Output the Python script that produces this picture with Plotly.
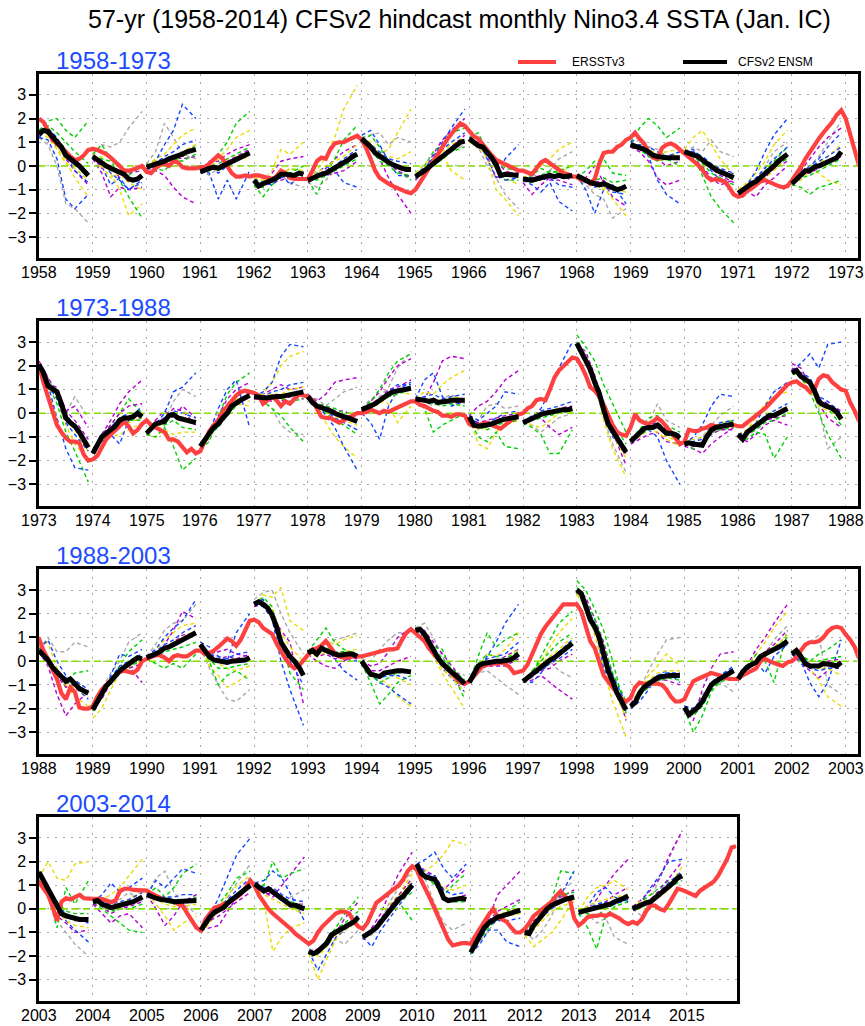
import plotly.graph_objects as go

# ---------------- DATA ----------------
TITLE = "57-yr (1958-2014) CFSv2 hindcast monthly Nino3.4 SSTA (Jan. IC)"
PANEL_TITLES = ["1958-1973", "1973-1988", "1988-2003", "2003-2014"]
PANEL_STARTS = [1958, 1973, 1988, 2003]
PANEL_LAST_TICK = [1973, 1988, 2003, 2015]
PANEL_LAST_FC = [1972, 1987, 2002, 2014]
PANEL_SPANS = [15.223, 15.223, 15.223, 12.928]
LEGEND_LABELS = ["ERSSTv3", "CFSv2 ENSM"]
YTICKS = [-3, -2, -1, 0, 1, 2, 3]

ERSST_START = 1958
ERSST = [
    [2.0, 1.85, 1.5, 1.1, 0.95, 0.8, 0.6, 0.4, 0.25, 0.3, 0.45, 0.68],
    [0.72, 0.68, 0.6, 0.5, 0.35, 0.2, 0.0, -0.2, -0.2, -0.15, -0.05, 0.0],
    [-0.25, -0.3, -0.1, 0.05, 0.1, 0.0, 0.2, 0.15, -0.05, -0.1, -0.1, -0.1],
    [-0.05, -0.05, 0.1, 0.25, 0.45, 0.3, 0.0, -0.3, -0.45, -0.45, -0.4, -0.45],
    [-0.4, -0.4, -0.45, -0.5, -0.55, -0.45, -0.2, -0.3, -0.5, -0.55, -0.55, -0.55],
    [-0.55, -0.2, 0.2, 0.35, 0.3, 0.7, 0.95, 1.0, 1.0, 1.1, 1.2, 1.27],
    [1.1, 0.75, 0.3, -0.2, -0.5, -0.65, -0.75, -0.85, -0.95, -1.0, -1.1, -1.15],
    [-1.0, -0.7, -0.4, -0.1, 0.2, 0.55, 0.8, 1.1, 1.35, 1.6, 1.8, 1.7],
    [1.45, 1.25, 1.15, 0.9, 0.65, 0.45, 0.25, 0.15, 0.05, -0.05, -0.1, -0.2],
    [-0.2, -0.3, -0.35, -0.1, 0.15, 0.25, 0.1, -0.05, -0.2, -0.3, -0.35, -0.45],
    [-0.45, -0.6, -0.55, -0.75, -0.55, 0.1, 0.55, 0.6, 0.6, 0.8, 0.9, 1.1],
    [1.2, 1.4, 1.15, 0.95, 0.6, 0.35, 0.3, 0.75, 0.9, 0.95, 0.85, 0.7],
    [0.55, 0.4, 0.25, 0.05, -0.15, -0.45, -0.6, -0.55, -0.6, -0.65, -0.9, -1.2],
    [-1.3, -1.25, -1.05, -0.95, -0.8, -0.65, -0.6, -0.7, -0.8, -0.85, -0.9, -0.85],
    [-0.6, -0.35, -0.05, 0.3, 0.6, 0.85, 1.15, 1.4, 1.6, 1.85, 2.15, 2.35],
    [2.0, 1.3, 0.65, 0.0, -0.5, -0.8, -1.05, -1.2, -1.2, -1.25, -1.75, -2.0],
    [-1.95, -1.8, -1.4, -1.1, -0.9, -0.75, -0.55, -0.35, -0.55, -0.85, -0.7, -0.45],
    [-0.3, -0.5, -0.6, -0.7, -0.8, -1.1, -1.1, -1.2, -1.4, -1.65, -1.5, -1.7],
    [-1.6, -1.2, -0.75, -0.5, -0.3, 0.05, 0.3, 0.5, 0.75, 0.9, 0.95, 0.9],
    [0.85, 0.75, 0.4, 0.55, 0.7, 0.55, 0.3, 0.5, 0.4, 0.6, 0.8, 0.75],
    [0.7, 0.55, 0.2, -0.15, -0.2, -0.2, -0.3, -0.4, -0.3, -0.2, -0.1, 0.0],
    [0.0, 0.05, 0.15, 0.05, 0.0, 0.1, 0.05, 0.15, 0.25, 0.3, 0.4, 0.5],
    [0.5, 0.35, 0.3, 0.2, 0.1, 0.05, -0.1, -0.1, -0.15, -0.05, -0.05, -0.1],
    [-0.45, -0.55, -0.5, -0.45, -0.4, -0.5, -0.6, -0.65, -0.5, -0.35, -0.2, -0.05],
    [0.0, 0.2, 0.3, 0.55, 0.6, 0.55, 1.0, 1.5, 1.8, 2.0, 2.2, 2.35],
    [2.3, 2.0, 1.6, 1.1, 0.95, 0.7, 0.35, -0.1, -0.5, -0.8, -0.9, -0.95],
    [-0.6, -0.05, -0.3, -0.4, -0.45, -0.35, -0.2, -0.35, -0.55, -0.8, -1.05, -1.3],
    [-1.2, -0.7, -0.75, -0.75, -0.65, -0.6, -0.5, -0.55, -0.6, -0.55, -0.5, -0.5],
    [-0.55, -0.55, -0.4, -0.25, -0.15, 0.05, 0.2, 0.4, 0.6, 0.8, 1.0, 1.2],
    [1.3, 1.35, 1.2, 1.1, 0.9, 1.0, 1.45, 1.6, 1.55, 1.3, 1.15, 1.0],
    [0.95, 0.45, 0.1, -0.35, -0.75, -1.35, -1.6, -1.1, -1.3, -1.95, -2.0, -2.0],
    [-1.9, -1.5, -1.2, -1.0, -0.8, -0.6, -0.45, -0.4, -0.45, -0.5, -0.35, 0.0],
    [0.1, 0.2, 0.25, 0.25, 0.15, 0.0, 0.2, 0.25, 0.2, 0.2, 0.3, 0.45],
    [0.45, 0.3, 0.35, 0.45, 0.6, 0.8, 0.95, 0.85, 0.65, 0.9, 1.3, 1.7],
    [1.75, 1.65, 1.4, 1.25, 1.15, 0.75, 0.4, 0.1, -0.15, -0.3, -0.2, 0.05],
    [0.3, 0.5, 0.55, 0.65, 0.85, 0.6, 0.35, 0.2, 0.15, 0.15, 0.2, 0.2],
    [0.2, 0.25, 0.3, 0.35, 0.4, 0.45, 0.5, 0.5, 0.55, 0.9, 1.2, 1.35],
    [1.2, 1.0, 0.85, 0.55, 0.3, 0.1, -0.1, -0.3, -0.5, -0.7, -0.9, -0.95],
    [-0.85, -0.65, -0.45, -0.2, -0.15, -0.1, -0.1, -0.05, -0.1, -0.25, -0.5, -0.45],
    [-0.4, -0.15, 0.3, 0.75, 1.15, 1.45, 1.7, 1.95, 2.2, 2.4, 2.4, 2.4],
    [2.4, 2.1, 1.5, 0.85, 0.55, -0.1, -0.6, -0.85, -1.1, -1.35, -1.6, -1.7],
    [-1.55, -1.1, -0.9, -0.95, -0.95, -0.95, -0.95, -1.0, -1.2, -1.5, -1.7, -1.7],
    [-1.6, -1.2, -0.85, -0.75, -0.65, -0.6, -0.5, -0.55, -0.6, -0.7, -0.75, -0.75],
    [-0.75, -0.6, -0.5, -0.45, -0.3, 0.0, 0.1, 0.0, -0.1, -0.15, -0.2, -0.05],
    [0.0, 0.15, 0.45, 0.7, 0.8, 0.8, 0.85, 1.0, 1.25, 1.4, 1.45, 1.4],
    [1.13, 0.9, 0.6, 0.1, -0.5, 0.3, 0.45, 0.4, 0.5, 0.59, 0.45, 0.42],
    [0.42, 0.42, 0.42, 0.35, 0.28, 0.35, 0.75, 0.85, 0.85, 0.8, 0.78, 0.77],
    [0.77, 0.65, 0.55, 0.45, 0.37, 0.33, 0.3, 0.2, 0.12, -0.2, -0.5, -0.8],
    [-0.92, -0.45, -0.2, 0.05, 0.1, 0.2, 0.25, 0.35, 0.5, 0.65, 0.9, 1.2],
    [0.95, 0.55, 0.28, 0.0, -0.2, -0.35, -0.5, -0.7, -0.85, -1.05, -1.2, -1.3],
    [-1.48, -1.35, -1.0, -0.75, -0.55, -0.4, -0.2, -0.12, -0.12, -0.2, -0.55, -0.75],
    [-0.85, -0.6, -0.15, 0.25, 0.4, 0.55, 0.7, 0.8, 1.0, 1.25, 1.6, 1.8],
    [1.65, 1.2, 0.85, 0.42, 0.0, -0.45, -0.95, -1.3, -1.55, -1.5, -1.45, -1.45],
    [-1.48, -1.15, -0.85, -0.5, -0.25, 0.0, -0.35, -0.45, -0.55, -0.8, -1.0, -1.0],
    [-0.85, -0.6, -0.3, -0.15, 0.0, 0.15, 0.3, 0.55, 0.75, 0.5, 0.42, -0.4],
    [-0.7, -0.55, -0.35, -0.3, -0.3, -0.25, -0.3, -0.2, -0.3, -0.4, -0.55, -0.65],
    [-0.55, -0.63, -0.45, -0.1, 0.14, 0.14, 0.0, -0.07, 0.2, 0.5, 0.85, 0.8],
    [0.7, 0.6, 0.55, 0.77, 0.9, 1.05, 1.15, 1.4, 1.75, 2.1, 2.6, 2.65],
]

ENSM_START = 1958
ENSM = [
    [1.35, 1.5, 1.45, 1.25, 1.0, 0.8, 0.45, 0.3, 0.2, 0.0, -0.2, -0.4],
    [0.4, 0.25, 0.1, 0.0, -0.1, -0.2, -0.25, -0.35, -0.55, -0.6, -0.55, -0.4],
    [-0.05, 0.0, 0.05, 0.1, 0.2, 0.3, 0.35, 0.45, 0.5, 0.6, 0.65, 0.7],
    [-0.25, -0.15, -0.1, -0.05, -0.1, 0.0, 0.1, 0.2, 0.3, 0.4, 0.5, 0.55],
    [-0.6, -0.85, -0.75, -0.7, -0.6, -0.5, -0.35, -0.35, -0.35, -0.4, -0.3, -0.35],
    [-0.6, -0.5, -0.45, -0.35, -0.3, -0.2, -0.1, 0.0, 0.1, 0.25, 0.4, 0.5],
    [1.15, 1.0, 0.8, 0.55, 0.4, 0.25, 0.15, 0.05, -0.05, -0.1, -0.15, -0.15],
    [-0.45, -0.35, -0.2, -0.05, 0.1, 0.3, 0.45, 0.6, 0.75, 0.9, 1.0, 1.05],
    [1.15, 1.0, 0.85, 0.8, 0.6, 0.35, 0.05, -0.4, -0.35, -0.35, -0.4, -0.4],
    [-0.55, -0.6, -0.6, -0.55, -0.5, -0.45, -0.4, -0.45, -0.4, -0.45, -0.4, -0.4],
    [-0.4, -0.5, -0.65, -0.7, -0.75, -0.8, -0.75, -0.85, -0.9, -1.0, -0.95, -0.85],
    [0.9, 0.85, 0.8, 0.7, 0.6, 0.45, 0.4, 0.35, 0.35, 0.35, 0.35, 0.35],
    [0.6, 0.55, 0.5, 0.4, 0.25, 0.1, -0.05, -0.15, -0.25, -0.3, -0.4, -0.5],
    [-1.15, -1.0, -0.9, -0.75, -0.65, -0.5, -0.35, -0.2, 0.0, 0.2, 0.35, 0.5],
    [-0.75, -0.55, -0.35, -0.2, -0.2, -0.05, 0.0, 0.1, 0.2, 0.3, 0.35, 0.6],
    [2.05, 1.7, 1.15, 1.0, 0.9, 0.4, -0.2, -0.4, -0.55, -0.8, -1.1, -1.45],
    [-1.7, -1.3, -1.0, -0.85, -0.7, -0.55, -0.3, -0.2, -0.2, -0.15, 0.0, -0.15],
    [-0.85, -0.65, -0.45, -0.4, -0.35, -0.1, -0.05, -0.2, -0.25, -0.3, -0.35, -0.4],
    [-1.4, -1.1, -0.85, -0.6, -0.45, -0.2, 0.0, 0.3, 0.45, 0.55, 0.65, 0.75],
    [0.7, 0.65, 0.65, 0.65, 0.7, 0.7, 0.7, 0.75, 0.8, 0.85, 0.9, 0.9],
    [0.7, 0.45, 0.3, 0.25, 0.2, 0.1, 0.0, -0.1, -0.15, -0.2, -0.25, -0.35],
    [0.15, 0.2, 0.3, 0.4, 0.55, 0.65, 0.8, 0.9, 0.95, 1.0, 1.05, 1.05],
    [0.6, 0.6, 0.55, 0.5, 0.55, 0.45, 0.45, 0.5, 0.55, 0.55, 0.55, 0.55],
    [-0.15, -0.5, -0.55, -0.55, -0.5, -0.45, -0.35, -0.3, -0.25, -0.2, -0.15, -0.15],
    [-0.4, -0.3, -0.2, -0.1, -0.05, 0.0, 0.05, 0.05, 0.1, 0.15, 0.15, 0.2],
    [2.95, 2.6, 2.2, 1.85, 1.3, 0.85, 0.15, -0.45, -0.75, -1.05, -1.35, -1.65],
    [-1.2, -1.0, -0.85, -0.65, -0.6, -0.6, -0.5, -0.65, -0.85, -0.85, -0.9, -1.05],
    [-1.3, -1.25, -1.3, -1.3, -1.35, -1.0, -0.7, -0.6, -0.55, -0.5, -0.5, -0.45],
    [-0.9, -1.1, -0.8, -0.65, -0.55, -0.4, -0.25, -0.1, -0.1, 0.0, 0.1, 0.2],
    [1.7, 1.8, 1.55, 1.45, 1.3, 0.95, 0.5, 0.35, 0.3, 0.2, 0.05, -0.25],
    [0.45, 0.25, 0.05, -0.25, -0.45, -0.65, -0.85, -0.75, -0.95, -1.15, -1.25, -1.35],
    [-2.05, -1.7, -1.35, -1.05, -0.85, -0.6, -0.4, -0.25, -0.1, 0.05, 0.15, 0.1],
    [0.15, 0.2, 0.3, 0.4, 0.55, 0.6, 0.7, 0.8, 0.9, 1.05, 1.15, 1.2],
    [0.7, 0.45, 0.2, 0.05, 0.0, 0.0, -0.05, 0.0, 0.0, 0.0, 0.05, 0.15],
    [2.4, 2.5, 2.4, 2.25, 1.95, 1.45, 0.8, 0.45, 0.2, 0.0, -0.25, -0.6],
    [0.35, 0.45, 0.3, 0.55, 0.45, 0.35, 0.3, 0.25, 0.3, 0.3, 0.3, 0.2],
    [0.0, -0.3, -0.55, -0.6, -0.65, -0.5, -0.45, -0.4, -0.4, -0.4, -0.45, -0.45],
    [1.3, 1.35, 1.15, 0.8, 0.45, 0.15, -0.1, -0.3, -0.45, -0.6, -0.8, -0.95],
    [-0.9, -0.5, -0.2, -0.1, -0.05, -0.05, 0.0, 0.0, 0.0, 0.05, 0.15, 0.3],
    [-0.85, -0.7, -0.5, -0.35, -0.25, -0.05, 0.05, 0.15, 0.3, 0.45, 0.6, 0.75],
    [3.0, 2.85, 2.3, 1.75, 1.45, 1.0, 0.3, -0.4, -0.85, -1.35, -1.7, -2.05],
    [-1.9, -1.75, -1.35, -1.1, -0.95, -0.8, -0.7, -0.65, -0.6, -0.6, -0.6, -0.6],
    [-1.95, -2.25, -2.1, -1.95, -1.7, -1.3, -1.0, -0.85, -0.75, -0.6, -0.55, -0.4],
    [-0.75, -0.45, -0.25, -0.15, -0.05, 0.2, 0.3, 0.35, 0.45, 0.55, 0.7, 0.85],
    [0.3, 0.45, 0.2, -0.1, -0.2, -0.2, -0.2, -0.1, -0.1, -0.15, -0.2, -0.05],
    [1.55, 1.2, 0.8, 0.45, 0.1, -0.2, -0.3, -0.35, -0.45, -0.45, -0.45, -0.45],
    [0.3, 0.35, 0.2, 0.1, 0.05, 0.1, 0.15, 0.15, 0.2, 0.3, 0.4, 0.5],
    [0.6, 0.5, 0.45, 0.4, 0.4, 0.35, 0.3, 0.3, 0.3, 0.35, 0.35, 0.35],
    [-0.9, -0.6, -0.35, -0.15, -0.05, 0.05, 0.25, 0.4, 0.55, 0.7, 0.85, 1.0],
    [1.05, 0.9, 0.75, 0.85, 0.7, 0.55, 0.4, 0.25, 0.15, 0.15, 0.05, 0.0],
    [-1.8, -1.9, -1.8, -1.6, -1.45, -1.1, -1.0, -0.9, -0.8, -0.7, -0.55, -0.35],
    [-1.2, -1.1, -0.95, -0.8, -0.55, -0.3, -0.1, 0.15, 0.4, 0.55, 0.8, 1.0],
    [1.9, 1.5, 1.35, 1.3, 1.25, 0.9, 0.45, 0.35, 0.4, 0.45, 0.45, 0.4],
    [-1.85, -1.5, -1.05, -0.8, -0.6, -0.45, -0.35, -0.3, -0.25, -0.2, -0.1, -0.05],
    [-1.0, -1.05, -0.7, -0.45, -0.2, 0.0, 0.15, 0.25, 0.3, 0.4, 0.45, 0.5],
    [-0.15, -0.1, -0.1, -0.05, 0.0, 0.05, 0.15, 0.2, 0.3, 0.35, 0.45, 0.55],
    [0.0, 0.1, 0.2, 0.25, 0.3, 0.45, 0.6, 0.75, 0.95, 1.1, 1.3, 1.4],
]

# ensemble members: values at these lead months, one row per forecast year 1958..2014
MEMBER_MONTHS = [0, 2, 4, 6, 8, 11]
BLUE = [
    [1.2, 1.1, 0.3, -1.4, -1.8, -1.2], [0.4, 0.0, -0.8, -0.5, -1.0, -0.6],
    [0.0, 0.2, 0.9, 1.5, 2.6, 2.0], [-0.2, -0.3, -1.4, -0.6, -1.4, -0.2],
    [-0.7, -0.9, -0.5, -0.3, -0.8, -0.3], [-0.5, -0.3, 0.0, -0.2, -0.7, -0.9],
    [1.3, 1.5, 0.9, 0.2, -0.4, -0.4], [-0.4, -0.3, 0.4, 1.0, 1.6, 2.4],
    [1.2, 1.1, 0.3, -0.5, 0.3, 0.9], [-0.6, -0.8, -1.1, -0.7, -1.5, -1.9],
    [-0.4, -1.0, -2.0, -1.0, -0.8, -1.6], [1.0, 1.2, 0.4, -0.6, -1.2, -1.6],
    [0.6, 0.7, 0.3, -0.2, -0.6, -0.3], [-1.1, -0.8, -0.2, 0.6, 1.3, 2.0],
    [-0.7, -0.3, 0.0, 0.3, 0.8, 1.4], [2.0, 1.2, -0.2, -1.5, -2.3, -2.4],
    [-1.7, -1.2, -0.9, -1.3, -0.3, 0.3], [-0.8, -0.5, 0.0, 0.9, 1.1, 1.7],
    [-1.4, -0.8, 0.2, 1.0, 1.4, -0.6], [0.7, 0.9, 1.3, 2.4, 2.9, 2.8],
    [0.7, 0.4, -0.1, -0.6, -1.4, -2.4], [0.0, -0.4, -1.1, 0.3, 1.0, 1.3],
    [0.6, 1.4, 1.7, 0.7, 0.3, 0.5], [-0.1, -0.3, 0.0, 0.3, 0.9, 0.8],
    [-0.4, -0.2, 0.2, 0.9, 1.9, 3.0], [2.9, 2.1, 1.1, 0.0, -1.0, -1.6],
    [-1.2, -0.9, -0.7, -1.0, -2.0, -3.0], [-1.3, -1.0, -0.5, 0.3, 0.8, 0.7],
    [-0.9, -0.8, -0.4, 0.3, 0.9, 1.3], [1.8, 2.1, 2.5, 1.9, 2.9, 3.0],
    [0.5, 0.9, 0.0, -0.6, -1.1, -1.6], [-2.0, -1.5, -0.6, 0.3, 0.2, 0.5],
    [0.2, 0.5, 1.0, 1.4, 1.7, 2.6], [0.8, 0.6, 0.2, 0.0, 1.2, 2.0],
    [2.5, 2.6, 1.8, 0.0, -1.2, -2.7], [0.3, 0.4, 0.6, 0.1, -0.4, -0.8],
    [0.0, -0.5, -0.9, -1.1, -1.4, -1.8], [1.3, 1.0, 0.4, -0.3, -0.7, -1.3],
    [-0.9, -0.4, 0.2, 0.8, 1.6, 2.4], [-0.8, -0.9, -0.5, 0.0, 0.4, 0.9],
    [2.9, 2.5, 1.5, -0.3, -1.0, -2.1], [-2.0, -1.7, -1.2, -0.6, -0.4, -0.9],
    [-1.9, -2.0, -1.6, -0.9, -0.6, -0.2], [-0.8, -0.4, 0.0, -0.5, 0.2, 0.7],
    [0.3, 0.0, -0.9, -1.5, -0.9, 0.9], [1.6, 1.0, 0.0, -0.5, -0.9, -1.4],
    [0.3, 0.6, 1.1, 0.7, 0.9, 1.3], [0.6, 1.2, 0.9, 1.3, 1.7, 1.5],
    [-0.8, -0.3, 0.5, 1.4, 2.3, 3.0], [1.1, 1.2, 1.6, 1.3, 0.6, -0.5],
    [-1.8, -2.6, -1.9, -1.2, -0.9, -0.5], [-1.2, -1.6, -0.9, -0.4, 0.1, 0.9],
    [1.9, 2.1, 2.4, 1.7, 1.3, 1.9], [-1.9, -1.5, -0.9, -0.9, -1.4, -1.6],
    [-1.0, -0.7, -0.2, 0.1, 0.6, 1.6], [-0.1, 0.1, 0.7, 0.9, 0.5, 0.3],
    [0.0, 0.3, 0.9, 1.4, 2.0, 2.1],
]
GREEN = [
    [1.5, 1.9, 2.0, 1.5, 1.2, 1.9], [0.5, 0.9, 0.3, -0.6, -1.3, -2.2],
    [0.1, -0.1, -0.2, 0.2, 0.4, 0.9], [-0.2, 0.1, 0.5, 1.0, 1.8, 2.3],
    [-0.8, -1.3, -0.8, -0.4, -0.1, -0.3], [-0.6, -1.2, -0.3, 0.3, 1.1, 1.7],
    [1.1, 1.3, 0.8, 0.2, -0.2, -0.6], [-0.5, 0.0, 0.6, 0.9, 1.4, 1.6],
    [1.2, 1.4, 0.6, -0.1, -0.6, -0.6], [-0.6, -0.4, -0.1, -0.3, -0.2, 0.0],
    [-0.5, -0.2, 0.2, 0.3, -0.3, -0.4], [1.0, 1.6, 2.0, 1.7, 1.2, 1.6],
    [0.5, 0.4, -0.4, -1.3, -1.8, -2.4], [-1.2, -1.0, -0.7, -0.2, 0.2, 0.8],
    [-0.8, -0.9, -1.2, -0.9, -0.8, -0.6], [2.1, 1.2, 0.4, -0.8, -1.6, -2.9],
    [-1.6, -1.0, -0.5, 0.0, 0.6, 0.0], [-0.9, -1.0, -0.6, -1.4, -2.4, -1.9],
    [-1.5, -1.2, -0.2, 0.8, 1.3, 1.7], [0.7, 0.5, 0.2, -0.1, -0.6, -1.2],
    [0.7, 0.3, 0.0, -0.3, -0.5, -0.9], [0.2, 0.5, 1.0, 1.7, 2.2, 2.5],
    [0.5, 0.2, -0.8, -0.5, -0.3, 0.0], [-0.2, -1.0, -1.2, -0.8, -1.4, -1.5],
    [-0.4, -0.6, -0.9, -1.7, -1.7, -0.7], [3.3, 2.8, 2.2, 1.2, 0.4, -0.8],
    [-1.1, -0.7, -0.2, -0.1, -0.5, -0.8], [-1.3, -1.5, -1.2, -0.9, -0.5, -0.3],
    [-1.0, -1.1, -0.8, -0.9, -1.9, -1.0], [1.8, 1.5, 0.9, 0.0, -0.9, -1.9],
    [0.4, 0.0, -0.6, -0.8, -0.5, -0.4], [-2.1, -1.4, -0.8, -0.2, 0.4, 0.9],
    [0.1, -0.1, -0.3, -0.1, -0.3, 0.3], [0.7, 0.0, -1.0, -0.6, -0.4, -0.8],
    [2.4, 2.7, 2.3, 1.0, -0.5, -1.2], [0.4, 0.9, 1.4, 0.8, 0.5, 0.3],
    [-0.1, -0.9, -1.8, -1.4, -0.9, -0.6], [1.4, 1.2, 0.6, 0.5, -0.4, -1.6],
    [-0.9, 0.2, 1.2, 0.6, 0.9, 1.2], [-0.8, -0.5, 0.2, 0.9, 1.6, 2.1],
    [3.4, 3.0, 2.2, 1.3, 0.0, -2.2], [-1.9, -1.5, -1.0, -0.9, -0.7, -0.5],
    [-2.0, -3.0, -2.3, -1.3, -0.8, -0.4], [-0.8, -0.3, 0.3, 0.0, -0.9, 1.3],
    [0.4, 0.2, 0.0, 0.3, 0.5, 0.9], [1.5, 0.6, -0.8, 0.9, 0.2, 1.2],
    [0.2, 0.0, -0.3, -0.6, -0.9, -1.0], [0.6, 0.9, 0.5, 0.9, 1.5, 1.9],
    [-0.9, -0.3, 0.2, 0.7, 1.3, 1.6], [1.0, 1.0, 2.0, 1.3, 1.5, 1.7],
    [-1.9, -1.9, -1.3, -0.8, -0.2, 0.5], [-1.2, -1.0, -0.5, 0.0, 0.3, -0.5],
    [1.8, 1.4, 1.0, 0.6, 1.0, 1.5], [-1.9, -1.3, -0.8, -0.4, -0.1, 0.3],
    [-1.0, -0.6, -0.2, 0.4, 1.6, 1.5], [-0.2, -0.8, -1.7, -0.3, 0.1, 0.3],
    [0.0, 0.3, 0.6, 0.9, 1.2, 1.3],
]
YELLOW = [
    [1.4, 1.3, 0.8, 0.2, -0.5, -1.3], [0.3, 0.4, -0.3, -1.0, -2.1, -1.6],
    [0.0, 0.3, 0.5, 0.9, 1.3, 1.6], [-0.3, -0.1, 0.3, 0.7, 1.2, 1.5],
    [-0.6, -0.6, -0.2, 0.7, 0.5, 1.0], [-0.5, -0.2, 0.4, 1.2, 2.4, 3.4],
    [1.1, 0.9, 0.5, 0.7, 1.4, 2.4], [-0.3, 0.1, 0.3, 0.5, -0.2, -0.6],
    [1.0, 0.9, 0.3, -1.0, -1.4, -2.1], [-0.5, -0.3, 0.0, 0.3, 0.7, 1.0],
    [-0.4, -0.7, -0.8, -0.9, -1.4, -2.1], [0.8, 0.9, 0.6, 0.2, 0.3, 0.6],
    [0.7, 1.2, 1.5, 0.9, 0.3, -0.4], [-1.0, -0.7, -0.3, 0.2, 0.9, 1.5],
    [-0.7, -0.6, -0.2, -0.3, -0.6, -0.8], [2.0, 1.4, 0.6, -0.5, -1.3, -2.0],
    [-1.6, -1.1, -1.0, -0.9, -0.7, -0.4], [-0.9, -1.0, -0.7, -0.9, -0.8, -0.8],
    [-1.3, -1.0, -0.5, 0.0, 0.4, 0.3], [0.6, 0.8, 1.3, 2.0, 2.4, 2.6],
    [0.6, 0.2, -0.4, -1.0, -1.4, -1.9], [0.2, 0.4, 0.6, 0.4, -0.4, 0.3],
    [0.6, 0.9, 0.8, 1.2, 1.5, 1.8], [-0.2, -1.3, -1.5, -0.8, -0.5, -0.3],
    [-0.3, -0.5, -0.6, -0.3, 0.0, 0.2], [2.8, 2.3, 1.3, -0.3, -1.5, -2.7],
    [-1.2, -1.0, -0.7, -0.8, -1.1, -1.4], [-1.2, -1.1, -1.0, -0.7, -0.4, -0.3],
    [-0.9, -0.7, -0.2, 0.4, 0.7, 0.9], [1.7, 1.5, 1.0, 0.3, 0.1, -0.2],
    [0.6, 0.8, -0.3, -1.0, -1.5, -1.9], [-2.4, -2.0, -1.2, -0.5, -0.3, 0.1],
    [0.2, 0.4, 0.9, 1.2, 1.5, 1.6], [0.7, -0.2, -0.6, -1.1, -0.9, -0.5],
    [2.3, 2.8, 2.7, 3.1, 1.7, 1.3], [0.3, 0.6, 0.9, 0.7, 0.9, 1.1],
    [0.0, -0.4, -0.7, -1.0, -1.5, -1.9], [1.2, 0.9, 0.2, -0.5, -1.1, -2.0],
    [-0.8, -0.3, 0.3, 0.2, 0.5, 1.2], [-0.8, -0.6, 0.0, 0.6, 1.2, 1.8],
    [2.8, 2.3, 1.1, -0.4, -1.7, -3.2], [-2.0, -1.3, -0.6, -0.2, 0.3, -0.2],
    [-1.9, -2.3, -1.7, -1.0, -0.6, -0.5], [-0.7, -0.2, 0.3, 0.8, 1.4, 2.1],
    [0.3, 0.2, -0.3, -0.8, -1.5, -1.9], [1.3, 2.0, 1.3, 1.2, 1.9, 2.0],
    [0.3, 0.4, 0.6, 0.9, 1.4, 2.1], [0.6, 0.2, -0.3, -0.9, -0.6, -0.3],
    [-1.0, -0.6, 0.0, 0.6, 1.0, 1.4], [1.0, 0.3, -1.8, -1.2, -0.8, -0.6],
    [-1.9, -3.0, -2.1, -1.3, -0.8, -0.6], [-1.1, -1.0, -0.5, 0.2, 0.6, 1.5],
    [1.7, 1.6, 1.9, 2.3, 2.9, 2.7], [-1.8, -1.2, -0.6, -0.3, -0.1, 0.0],
    [-1.1, -1.6, -1.3, -1.0, -0.5, 0.4], [-0.1, 0.5, 0.9, 1.0, 1.2, 0.8],
    [0.0, 0.4, 0.6, 0.7, 0.9, 1.8],
]
PURPLE = [
    [1.3, 1.4, 1.0, 0.3, -0.2, -0.8], [0.3, -0.3, -1.3, -0.9, -1.0, -0.9],
    [-0.1, -0.2, -0.4, -0.9, -1.3, -1.6], [-0.3, 0.2, 0.2, 0.5, 0.7, 0.9],
    [-0.6, -0.9, -0.3, 0.2, 0.3, 0.4], [-0.6, -0.5, -0.1, 0.3, 0.6, 0.9],
    [1.0, 0.7, 0.3, -0.5, -1.2, -2.0], [-0.6, -0.2, 0.5, 1.1, 1.5, 2.0],
    [1.1, 1.0, 0.4, -0.5, -0.3, -0.3], [-0.7, -1.2, -0.8, -0.5, -0.4, -0.6],
    [-0.5, -0.5, 0.0, -0.7, -1.3, -1.7], [0.8, 0.6, 0.2, -0.5, -0.8, -0.6],
    [0.5, 0.3, 0.0, -0.5, -0.8, -0.6], [-1.2, -1.1, -1.3, -0.8, -0.5, 0.0],
    [-0.7, -0.2, 0.3, 0.8, 1.2, 1.6], [2.2, 1.5, 0.9, 0.1, 0.3, -0.6],
    [-1.7, -0.9, -0.3, 0.4, 0.9, 1.4], [-0.8, -0.3, 0.1, -0.2, 0.3, -0.2],
    [-1.4, -0.9, -0.1, 0.6, 1.0, 1.3], [0.7, 0.8, 1.0, 1.2, 1.0, 1.1],
    [0.8, 0.5, 0.8, 1.3, 1.4, 1.5], [0.1, 0.5, 0.9, 1.5, 2.0, 2.3],
    [0.5, 0.6, 1.3, 2.2, 2.4, 2.3], [-0.1, 0.3, 0.5, 0.9, 1.4, 1.8],
    [-0.4, -0.3, -0.2, -0.6, -0.9, -0.6], [2.9, 2.6, 1.6, 0.4, -0.8, -2.2],
    [-1.3, -1.1, -0.9, -0.8, -1.2, -1.3], [-1.4, -1.5, -1.7, -1.3, -1.0, -0.6],
    [-1.0, -1.2, -0.9, -0.5, -0.3, -0.5], [2.1, 1.9, 1.2, 0.4, -0.2, -0.6],
    [0.4, -0.2, -1.4, -2.3, -1.8, -1.3], [-2.0, -1.6, -0.9, -0.3, -0.2, -0.9],
    [0.1, 0.2, 0.7, 1.3, 2.1, 1.8], [0.7, 0.3, 0.4, 0.5, 0.3, 0.2],
    [2.4, 2.6, 2.0, 1.3, 0.8, -1.8], [0.3, 0.0, -0.2, -0.3, 0.0, 0.3],
    [0.0, -0.2, -0.1, 0.4, 1.0, 1.4], [1.3, 1.3, 0.8, 0.3, -0.2, -0.9],
    [-0.9, -0.4, -0.2, 0.0, 0.2, 0.5], [-0.9, -0.8, -0.6, -0.9, -1.2, -1.6],
    [3.0, 2.7, 1.8, 0.8, -0.6, -2.5], [-1.8, -1.4, -1.1, -0.8, -0.8, -1.0],
    [-2.0, -2.5, -1.2, -0.3, 0.3, 0.4], [-0.7, -0.2, 0.5, 1.0, 1.6, 2.4],
    [0.3, -0.1, -0.4, -0.7, -0.4, 0.0], [1.5, 0.8, -0.3, -0.6, -1.0, -0.9],
    [0.2, -0.2, -0.6, -0.3, -0.2, -0.8], [0.6, 0.0, -0.7, -0.3, 0.3, 0.6],
    [-0.9, -0.8, -0.7, -0.1, 0.5, 1.0], [1.0, 0.7, 0.5, 1.0, 1.5, 2.2],
    [-1.8, -1.9, -1.4, -1.0, -0.4, 0.3], [-1.3, -0.8, -0.2, 0.7, 1.5, 2.4],
    [1.9, 1.6, 1.4, 0.8, 1.2, 1.7], [-1.8, -1.2, -0.4, 0.6, 1.0, 1.6],
    [-1.0, -0.5, -0.2, 0.2, 0.5, 0.8], [-0.2, 0.0, 0.4, 1.0, 1.5, 2.1],
    [0.1, 0.4, 0.8, 1.3, 2.2, 3.3],
]
GRAY = [
    [1.2, 0.9, 0.0, -1.6, -1.8, -2.4], [0.4, 0.9, 0.8, 1.0, 1.6, 2.3],
    [0.1, 0.6, 1.8, 1.2, 0.5, 0.3], [-0.2, -0.4, -0.1, 0.2, 0.3, 0.5],
    [-0.5, -0.8, -0.6, -0.4, -0.7, -0.9], [-0.7, -0.9, -0.6, -0.2, 0.2, 0.5],
    [1.2, 1.3, 1.4, 0.9, 1.2, 1.0], [-0.4, 0.0, 0.2, 0.7, 0.6, 0.9],
    [1.1, 0.8, 0.0, -0.5, -1.2, -1.8], [-0.6, -0.3, -0.6, -0.2, 0.3, 0.6],
    [-0.4, -0.8, -1.2, -1.4, -2.2, -1.8], [0.9, 1.1, 0.8, 0.7, 0.4, 0.2],
    [0.6, 0.8, 0.6, 1.1, 0.6, 0.4], [-1.1, -0.9, -0.6, 0.0, 0.6, 1.0],
    [-0.6, -0.4, 0.0, 0.4, 1.0, 1.9], [2.0, 1.5, 0.7, 0.0, 0.7, -0.2],
    [-1.5, -1.0, -0.8, -0.5, -0.3, -0.2], [-0.8, -0.6, -0.3, 0.5, 1.0, 0.7],
    [-1.3, -1.1, -0.4, 0.4, 0.8, 1.0], [0.7, 0.5, 0.2, -0.5, -0.8, -0.9],
    [0.7, 0.6, 0.3, 0.6, 0.9, 1.1], [0.2, 0.6, 0.7, 1.1, 1.9, 2.6],
    [0.6, 0.5, 0.3, 0.6, 0.8, 0.4], [-0.1, -0.3, 0.3, 0.4, 0.2, 0.3],
    [-0.4, -0.5, -0.8, -0.5, -0.2, 0.0], [2.9, 2.4, 1.2, -0.2, -1.3, -2.5],
    [-1.1, -0.8, -0.4, 0.4, -0.3, -0.6], [-1.3, -1.2, -1.0, -0.5, -0.1, 0.3],
    [-0.9, -1.0, -0.6, -0.2, 0.0, 0.2], [1.8, 1.6, 1.4, 0.2, -1.5, -1.0],
    [0.5, 1.0, 0.4, 0.4, 0.8, 0.6], [-1.9, -1.2, -0.5, 0.0, 0.8, 1.2],
    [0.2, 0.7, 1.3, 1.6, 1.7, 2.4], [0.6, -0.3, -1.0, -1.6, -1.7, -1.2],
    [2.6, 2.9, 3.0, 2.0, 1.2, 0.3], [0.3, 0.5, 0.7, 0.9, 1.0, 1.2],
    [0.1, 0.0, 0.5, 0.9, 1.2, 1.2], [1.4, 1.6, 1.0, 0.2, -0.4, -0.6],
    [-0.8, -0.5, -0.4, -0.7, -1.0, -1.4], [-0.8, -0.7, -0.3, 0.0, -0.4, -0.7],
    [3.0, 2.6, 1.4, 0.3, -0.8, -1.9], [-1.8, -1.2, -0.4, 0.3, 0.9, 1.0],
    [-1.9, -2.1, -1.4, -1.0, -0.9, -1.3], [-0.7, -0.5, -0.4, 0.3, 0.9, 1.5],
    [0.4, 0.5, 0.8, 1.1, -1.0, -1.4], [1.5, 0.7, -0.5, -1.0, -1.5, -2.0],
    [0.3, 0.1, 0.3, 0.4, 0.7, 0.3], [0.6, 1.3, 1.6, 0.7, 0.2, -0.2],
    [-0.9, -0.5, -0.1, 0.5, 1.1, 1.9], [1.1, 0.9, 0.7, 0.3, 0.5, 0.8],
    [-1.7, -1.8, -1.5, -1.3, -1.5, -0.9], [-1.2, -1.1, -0.5, 0.3, 0.9, 1.6],
    [1.8, 1.2, 0.2, -0.6, -0.9, -0.6], [-1.8, -1.4, -0.9, -0.4, -0.2, -0.1],
    [-1.0, -1.3, -0.9, -0.3, 0.7, 1.2], [-0.1, -0.2, -0.6, -0.4, -1.2, -1.5],
    [0.0, -0.3, 0.4, 1.3, 2.1, 3.3],
]
# inner members of each colour group (closer to the mean)
BLUE2 = [
    [1.2, 1.6, 1.2, 0.5, -0.2, -0.7], [0.3, 0.2, -0.3, -0.6, -1.0, -0.7],
    [0.0, 0.1, 0.4, 0.6, 0.9, 1.1], [-0.3, 0.0, -0.3, 0.0, 0.2, 0.6],
    [-0.6, -0.7, -0.8, -0.5, -0.4, -0.6], [-0.6, -0.4, -0.2, 0.0, 0.3, 0.7],
    [1.2, 0.9, 0.6, 0.3, 0.2, 0.1], [-0.4, -0.1, 0.3, 0.7, 1.0, 1.4],
    [1.2, 0.9, 0.5, -0.1, -0.6, -0.5], [-0.5, -0.5, -0.6, -0.5, -0.8, -0.9],
    [-0.4, -0.6, -0.9, -0.8, -1.1, -1.2], [0.9, 0.9, 0.8, 0.6, 0.4, 0.6],
    [0.6, 0.6, 0.4, 0.1, -0.1, -0.3], [-1.1, -0.8, -0.5, -0.1, 0.3, 0.8],
    [-0.7, -0.3, -0.1, 0.2, 0.4, 0.8], [2.0, 1.2, 0.6, -0.4, -0.9, -1.6],
    [-1.7, -0.9, -0.6, -0.2, 0.0, 0.0], [-0.8, -0.4, -0.2, 0.1, 0.0, -0.2],
    [-1.4, -0.8, -0.3, 0.2, 0.7, 1.0], [0.7, 0.7, 0.9, 1.0, 1.2, 1.3],
    [0.7, 0.3, 0.1, -0.2, -0.4, -0.7], [0.1, 0.3, 0.6, 0.9, 1.2, 1.2],
    [0.6, 0.7, 0.8, 0.6, 0.7, 0.8], [-0.1, -0.5, -0.4, -0.2, 0.0, 0.1],
    [-0.4, -0.1, 0.1, 0.2, 0.3, 0.5], [2.9, 2.2, 1.4, 0.3, -0.6, -1.5],
    [-1.2, -0.8, -0.5, -0.4, -0.7, -0.9], [-1.3, -1.2, -1.1, -0.6, -0.4, -0.3],
    [-0.9, -0.8, -0.5, -0.1, 0.1, 0.4], [1.8, 1.7, 1.5, 0.7, 0.5, 0.0],
    [0.4, 0.1, -0.4, -0.7, -0.8, -1.2], [-2.0, -1.3, -0.7, -0.2, 0.0, 0.3],
    [0.2, 0.4, 0.7, 0.9, 1.2, 1.5], [0.7, 0.3, 0.2, 0.1, 0.3, 0.4],
    [2.4, 2.3, 1.8, 0.6, 0.0, -1.0], [0.3, 0.4, 0.5, 0.3, 0.1, 0.0],
    [0.0, -0.5, -0.7, -0.6, -0.6, -0.8], [1.3, 1.1, 0.5, 0.0, -0.4, -0.9],
    [-0.9, -0.2, 0.1, 0.2, 0.3, 0.8], [-0.8, -0.6, -0.4, -0.1, 0.1, 0.5],
    [3.0, 2.4, 1.6, 0.5, -0.6, -1.8], [-1.9, -1.3, -0.9, -0.6, -0.5, -0.5],
    [-1.9, -2.0, -1.6, -0.9, -0.6, -0.3], [-0.7, -0.2, 0.0, 0.3, 0.4, 0.7],
    [0.3, 0.1, -0.3, -0.4, -0.3, -0.3], [1.5, 0.8, 0.2, -0.2, -0.4, -0.6],
    [0.3, 0.3, 0.2, 0.3, 0.4, 0.7], [0.6, 0.5, 0.5, 0.5, 0.6, 0.6],
    [-0.9, -0.3, 0.1, 0.4, 0.8, 1.3], [1.1, 0.9, 0.9, 0.6, 0.4, 0.3],
    [-1.8, -1.9, -1.5, -1.0, -0.7, -0.3], [-1.2, -1.0, -0.6, -0.1, 0.4, 1.1],
    [1.9, 1.5, 1.4, 0.8, 0.6, 0.7], [-1.8, -1.1, -0.7, -0.5, -0.5, -0.4],
    [-1.0, -0.8, -0.3, 0.0, 0.3, 0.6], [-0.1, 0.0, 0.2, 0.3, 0.2, 0.4],
    [0.0, 0.2, 0.4, 0.7, 1.1, 1.6],
]
GREEN2 = [
    [1.5, 1.7, 1.4, 1.0, 0.6, 0.1], [0.4, 0.3, 0.2, 0.0, -0.4, 0.0],
    [-0.1, 0.0, 0.1, 0.3, 0.2, 0.5], [-0.2, -0.2, 0.1, 0.3, 0.5, 0.8],
    [-0.7, -0.9, -0.5, -0.2, -0.3, 0.0], [-0.5, -0.6, -0.4, -0.2, 0.0, 0.3],
    [1.1, 0.7, 0.2, 0.0, -0.3, -0.4], [-0.5, -0.3, 0.0, 0.3, 0.6, 0.8],
    [1.1, 0.9, 0.7, 0.3, -0.1, -0.2], [-0.6, -0.7, -0.4, -0.2, -0.3, -0.4],
    [-0.5, -0.7, -0.6, -0.5, -0.7, -0.6], [0.9, 0.7, 0.4, 0.2, 0.3, 0.0],
    [0.6, 0.4, 0.1, -0.3, -0.5, -0.8], [-1.2, -0.9, -0.6, -0.3, 0.0, 0.3],
    [-0.8, -0.5, -0.4, -0.2, 0.0, 0.3], [2.1, 1.3, 1.0, 0.0, -0.6, -1.3],
    [-1.6, -1.1, -0.9, -0.5, -0.3, -0.3], [-0.9, -0.5, -0.5, -0.3, -0.6, -0.7],
    [-1.4, -0.9, -0.6, -0.1, 0.3, 0.8], [0.7, 0.6, 0.6, 0.6, 0.5, 0.6],
    [0.7, 0.4, 0.3, 0.2, 0.0, 0.0], [0.2, 0.3, 0.5, 0.7, 0.8, 1.0],
    [0.6, 0.5, 0.4, 0.3, 0.4, 0.3], [-0.2, -0.6, -0.7, -0.5, -0.4, -0.3],
    [-0.4, -0.3, -0.2, -0.1, 0.0, 0.1], [3.0, 2.3, 1.5, 0.5, -0.4, -1.3],
    [-1.2, -0.9, -0.7, -0.6, -0.9, -1.1], [-1.3, -1.3, -1.4, -0.8, -0.7, -0.6],
    [-0.9, -0.9, -0.7, -0.4, -0.3, 0.0], [1.7, 1.5, 1.2, 0.4, 0.2, -0.5],
    [0.5, 0.0, -0.5, -0.9, -1.0, -1.4], [-2.1, -1.4, -0.9, -0.5, -0.2, 0.0],
    [0.1, 0.2, 0.4, 0.5, 0.6, 0.8], [0.7, 0.1, -0.3, -0.3, -0.2, -0.1],
    [2.4, 2.5, 2.0, 0.9, 0.3, -0.4], [0.4, 0.4, 0.6, 0.4, 0.4, 0.3],
    [0.0, -0.6, -0.9, -0.7, -0.5, -0.4], [1.3, 1.2, 0.6, 0.1, -0.3, -0.8],
    [-0.9, -0.1, 0.3, 0.2, 0.1, 0.4], [-0.9, -0.4, 0.0, 0.4, 0.8, 1.2],
    [3.1, 2.5, 1.8, 0.7, -0.5, -1.7], [-1.9, -1.4, -1.1, -0.8, -0.7, -0.8],
    [-2.0, -2.3, -1.9, -1.2, -0.9, -0.6], [-0.8, -0.3, -0.1, 0.2, 0.5, 1.0],
    [0.3, 0.3, 0.0, 0.0, 0.1, 0.2], [1.6, 0.9, 0.3, -0.1, -0.2, -0.2],
    [0.3, 0.1, -0.1, 0.0, 0.0, 0.2], [0.6, 0.4, 0.3, 0.2, 0.3, 0.5],
    [-0.9, -0.4, -0.1, 0.2, 0.5, 0.9], [1.0, 0.7, 0.8, 0.5, 0.3, 0.1],
    [-1.9, -1.8, -1.3, -0.9, -0.6, -0.1], [-1.2, -0.9, -0.5, 0.0, 0.3, 0.7],
    [1.9, 1.3, 1.1, 0.4, 0.3, 0.3], [-1.9, -1.0, -0.5, -0.3, -0.2, 0.0],
    [-1.0, -0.6, -0.1, 0.3, 0.6, 0.7], [-0.2, -0.2, -0.3, 0.0, 0.2, 0.4],
    [0.0, 0.1, 0.3, 0.6, 0.9, 1.2],
]
YELLOW2 = [
    [1.4, 1.2, 0.7, 0.1, -0.1, -0.6], [0.5, 0.0, -0.5, -0.3, -0.7, -1.0],
    [0.0, 0.2, 0.3, 0.1, 0.6, 0.9], [-0.3, -0.1, -0.2, 0.0, 0.4, 0.3],
    [-0.5, -0.6, -0.6, -0.4, -0.1, -0.2], [-0.6, -0.3, 0.0, 0.2, 0.4, 0.9],
    [1.2, 1.0, 0.5, 0.4, 0.3, 0.6], [-0.4, -0.2, 0.2, 0.6, 0.9, 1.2],
    [1.2, 0.8, 0.5, 0.0, -0.5, -0.8], [-0.5, -0.6, -0.6, -0.5, -0.3, 0.0],
    [-0.4, -0.6, -0.8, -1.0, -1.0, -1.1], [0.9, 0.8, 0.7, 0.5, 0.6, 0.7],
    [0.5, 0.5, 0.3, 0.0, -0.2, -0.6], [-1.1, -1.0, -0.7, -0.5, -0.2, 0.4],
    [-0.7, -0.4, -0.1, 0.1, 0.4, 0.9], [2.0, 1.0, 0.8, -0.3, -0.7, -1.6],
    [-1.7, -1.0, -0.7, -0.4, -0.4, -0.2], [-0.8, -0.6, -0.4, 0.0, -0.3, -0.3],
    [-1.3, -0.8, -0.5, 0.1, 0.6, 0.5], [0.7, 0.7, 0.8, 0.8, 1.0, 1.1],
    [0.7, 0.2, 0.1, -0.1, -0.3, -0.5], [0.1, 0.2, 0.4, 0.7, 0.9, 0.8],
    [0.6, 0.5, 0.6, 0.5, 0.7, 0.6], [-0.1, -0.7, -0.6, -0.4, -0.3, -0.2],
    [-0.4, -0.2, 0.0, 0.1, 0.2, 0.0], [2.9, 2.1, 1.2, 0.0, -0.9, -1.9],
    [-1.1, -0.8, -0.6, -0.5, -1.0, -1.2], [-1.2, -1.3, -1.3, -0.7, -0.6, -0.5],
    [-0.9, -0.7, -0.4, -0.2, 0.0, 0.3], [1.7, 1.6, 1.3, 0.5, 0.3, -0.3],
    [0.5, 0.1, -0.5, -1.0, -1.1, -1.5], [-2.1, -1.4, -0.9, -0.4, -0.1, 0.3],
    [0.2, 0.3, 0.6, 0.8, 1.0, 1.3], [0.7, 0.2, -0.1, -0.3, -0.4, -0.2],
    [2.4, 2.5, 2.2, 1.2, 0.6, 0.0], [0.3, 0.2, 0.4, 0.2, 0.4, 0.5],
    [0.0, -0.5, -0.6, -0.5, -0.7, -1.0], [1.2, 1.0, 0.3, -0.3, -0.7, -1.3],
    [-0.9, -0.3, -0.1, 0.0, 0.1, 0.5], [-0.8, -0.5, -0.1, 0.2, 0.5, 1.0],
    [2.9, 2.2, 1.3, 0.1, -1.1, -2.4], [-1.9, -1.2, -0.8, -0.5, -0.4, -0.4],
    [-1.9, -2.1, -1.8, -1.1, -0.8, -0.5], [-0.7, -0.2, 0.0, 0.4, 0.6, 1.1],
    [0.3, 0.2, -0.2, -0.3, -0.3, -0.6], [1.5, 0.7, -0.1, -0.5, -0.7, -0.8],
    [0.3, 0.2, 0.1, 0.2, 0.4, 0.8], [0.6, 0.4, 0.2, 0.1, 0.1, 0.2],
    [-0.9, -0.4, -0.1, 0.3, 0.6, 1.1], [1.0, 0.6, 0.4, 0.2, 0.0, -0.2],
    [-1.8, -2.0, -1.6, -1.1, -0.9, -0.5], [-1.2, -1.0, -0.6, -0.2, 0.5, 1.2],
    [1.8, 1.4, 1.3, 0.9, 0.8, 1.0], [-1.8, -1.1, -0.6, -0.4, -0.3, -0.2],
    [-1.0, -0.9, -0.5, -0.1, 0.1, 0.3], [-0.1, 0.1, 0.3, 0.4, 0.5, 0.6],
    [0.0, 0.3, 0.4, 0.5, 0.8, 1.4],
]
PURPLE2 = [
    [1.3, 1.4, 0.8, 0.6, 0.3, -0.3], [0.4, -0.1, 0.0, -0.5, -0.3, -0.2],
    [0.0, -0.1, 0.2, 0.4, 0.3, 0.4], [-0.2, 0.0, 0.0, 0.2, 0.4, 0.7],
    [-0.6, -0.8, -0.7, -0.6, -0.5, -0.5], [-0.7, -0.5, -0.4, -0.3, -0.2, 0.2],
    [1.1, 0.8, 0.5, 0.1, -0.2, -0.5], [-0.5, -0.1, 0.1, 0.4, 0.8, 1.3],
    [1.1, 0.8, 0.6, 0.2, -0.2, -0.4], [-0.6, -0.5, -0.4, -0.6, -0.6, -0.8],
    [-0.4, -0.7, -0.7, -0.6, -1.0, -0.9], [0.8, 0.7, 0.5, 0.3, 0.0, 0.2],
    [0.6, 0.4, 0.2, -0.1, -0.4, -0.7], [-1.2, -0.9, -0.8, -0.5, -0.1, 0.2],
    [-0.8, -0.3, -0.3, -0.1, 0.1, 0.4], [2.1, 1.2, 1.1, 0.1, -0.3, -1.1],
    [-1.6, -0.9, -0.5, 0.0, 0.3, 0.4], [-0.9, -0.4, -0.2, 0.2, 0.1, -0.5],
    [-1.4, -0.9, -0.4, 0.0, 0.4, 0.9], [0.6, 0.6, 0.5, 0.5, 0.7, 0.6],
    [0.7, 0.4, 0.3, 0.1, 0.1, -0.2], [0.2, 0.4, 0.6, 1.0, 1.1, 1.4],
    [0.6, 0.6, 0.4, 0.5, 0.4, 0.5], [-0.2, -0.4, -0.3, -0.2, -0.1, 0.0],
    [-0.3, -0.2, -0.1, 0.0, 0.2, 0.3], [3.0, 2.3, 1.3, 0.1, -0.7, -1.7],
    [-1.2, -0.9, -0.6, -0.4, -0.8, -1.0], [-1.3, -1.4, -1.2, -0.9, -0.7, -0.7],
    [-0.9, -0.9, -0.6, -0.3, -0.2, -0.1], [1.9, 1.7, 1.4, 0.6, 0.4, 0.1],
    [0.4, 0.0, -0.6, -1.1, -1.0, -1.3], [-2.0, -1.3, -0.8, -0.5, -0.3, -0.1],
    [0.1, 0.3, 0.5, 0.8, 1.1, 1.2], [0.7, 0.3, 0.1, 0.2, 0.1, 0.3],
    [2.3, 2.4, 1.9, 0.9, 0.2, -0.5], [0.4, 0.2, 0.3, 0.1, 0.2, 0.1],
    [0.0, -0.4, -0.4, -0.2, 0.0, 0.2], [1.3, 1.2, 0.5, 0.0, -0.5, -1.1],
    [-0.9, -0.3, -0.2, -0.2, -0.2, 0.1], [-0.9, -0.6, -0.4, -0.3, 0.0, 0.3],
    [3.0, 2.4, 1.5, 0.3, -0.9, -2.2], [-1.8, -1.3, -0.9, -0.7, -0.6, -0.7],
    [-2.0, -2.2, -1.7, -1.0, -0.7, -0.4], [-0.8, -0.3, 0.1, 0.4, 0.7, 1.3],
    [0.3, 0.1, -0.3, -0.2, 0.0, 0.1], [1.6, 0.8, 0.0, -0.3, -0.5, -0.4],
    [0.2, 0.1, -0.2, 0.0, 0.1, 0.3], [0.6, 0.5, 0.3, 0.3, 0.2, 0.4],
    [-0.9, -0.5, -0.3, 0.0, 0.3, 0.7], [1.0, 0.7, 0.6, 0.4, 0.2, 0.2],
    [-1.8, -1.7, -1.4, -1.1, -0.8, -0.4], [-1.2, -0.9, -0.4, 0.1, 0.6, 1.3],
    [1.9, 1.4, 1.2, 0.5, 0.4, 0.6], [-1.8, -1.0, -0.5, -0.1, 0.1, 0.4],
    [-1.0, -0.7, -0.3, 0.1, 0.3, 0.4], [-0.2, -0.1, 0.1, 0.3, 0.6, 0.9],
    [0.0, 0.2, 0.4, 0.8, 1.3, 2.0],
]

MEMBER_SETS = [("#a9a9a9", GRAY), ("#b400d2", PURPLE), ("#e8dc00", YELLOW),
               ("#00d200", GREEN), ("#1446ff", BLUE),
               ("#b400d2", PURPLE2), ("#e8dc00", YELLOW2),
               ("#00d200", GREEN2), ("#1446ff", BLUE2)]

# ---------------- LAYOUT GEOMETRY (pixels of the 865x1026 page) ----------------
W, H = 865, 1026
FRAMES = [(73.5, 258.4, 857.7), (320.7, 505.7, 857.7), (568.7, 753.7, 857.7), (816.7, 1001.0, 736.7)]
LEFT = 39.0
FONT = "Liberation Sans"

fig = go.Figure()


def ax_name(i, kind):
    return kind if i == 0 else f"{kind}{i + 1}"


for i, start in enumerate(PANEL_STARTS):
    xa = "x" if i == 0 else f"x{i + 1}"
    ya = "y" if i == 0 else f"y{i + 1}"
    xmax = start + PANEL_SPANS[i]
    fc_years = list(range(start, PANEL_LAST_FC[i] + 1))

    # ensemble members
    for color, rows in MEMBER_SETS:
        xs, ys = [], []
        for yr in fc_years:
            row = rows[yr - ENSM_START]
            for m, v in zip(MEMBER_MONTHS, row):
                xs.append(yr + m / 12.0)
                ys.append(v)
            xs.append(None)
            ys.append(None)
        fig.add_trace(go.Scatter(x=xs, y=ys, mode="lines", xaxis=xa, yaxis=ya,
                                 line=dict(color=color, width=1.4, dash="4px,3px"),
                                 showlegend=False, hoverinfo="skip"))

    # zero line
    fig.add_trace(go.Scatter(x=[start, xmax], y=[0, 0], mode="lines", xaxis=xa, yaxis=ya,
                             line=dict(color="#84e000", width=1.6, dash="7px,4px"),
                             showlegend=False, hoverinfo="skip"))

    # observations
    xs, ys = [], []
    for k, row in enumerate(ERSST):
        yr = ERSST_START + k
        for m, v in enumerate(row):
            t = yr + m / 12.0
            if start - 0.1 <= t <= xmax + 0.1:
                xs.append(t)
                ys.append(v)
    fig.add_trace(go.Scatter(x=xs, y=ys, mode="lines", xaxis=xa, yaxis=ya,
                             line=dict(color="#ff4040", width=4.2),
                             showlegend=False, hoverinfo="skip"))

    # ensemble mean
    xs, ys = [], []
    for yr in fc_years:
        row = ENSM[yr - ENSM_START]
        for m, v in enumerate(row):
            xs.append(yr + m / 12.0)
            ys.append(v)
        xs.append(None)
        ys.append(None)
    fig.add_trace(go.Scatter(x=xs, y=ys, mode="lines", xaxis=xa, yaxis=ya,
                             line=dict(color="black", width=5),
                             showlegend=False, hoverinfo="skip"))

    top, bot, right = FRAMES[i]
    ticks = list(range(start, PANEL_LAST_TICK[i] + 1))
    fig.layout[ax_name(i, "xaxis")] = dict(
        domain=[LEFT / W, right / W], range=[start, xmax], anchor=ya, automargin=False,
        tickvals=ticks, showticklabels=False, ticks="",
        showgrid=True, gridcolor="#a8a8a8", griddash="2px,6px", gridwidth=1.2,
        showline=True, mirror=True, linecolor="black", linewidth=2.5,
        zeroline=False, fixedrange=True)
    fig.layout[ax_name(i, "yaxis")] = dict(
        domain=[1 - bot / H, 1 - top / H], range=[-3.9, 3.9], anchor=xa, automargin=False,
        tickvals=YTICKS, ticktext=[str(t).replace("-", "\u2212") for t in YTICKS],
        showgrid=True, gridcolor="#a8a8a8", griddash="2px,6px", gridwidth=1.2,
        showline=True, mirror=True, linecolor="black", linewidth=2.5,
        ticks="outside", ticklen=7, tickwidth=1.5, tickcolor="black",
        tickfont=dict(family=FONT, size=16, color="black"),
        zeroline=False, fixedrange=True)

    # x tick labels placed just under the frame
    for t in ticks:
        px = LEFT + (t - start) / PANEL_SPANS[i] * (right - LEFT)
        fig.add_annotation(text=str(t), xref="paper", yref="paper",
                           x=px / W, y=1 - (bot + 14.5) / H, xanchor="center", yanchor="middle",
                           showarrow=False, font=dict(family=FONT, size=16, color="black"))

    fig.add_annotation(text=PANEL_TITLES[i], xref="paper", yref="paper",
                       x=54 / W, y=1 - (top - 13) / H, xanchor="left", yanchor="middle",
                       showarrow=False,
                       font=dict(family=FONT, size=24, color="#1a4cff"))

fig.add_annotation(text=TITLE, xref="paper", yref="paper", x=459 / W, y=1 - 19 / H,
                   xanchor="center", yanchor="middle", showarrow=False,
                   font=dict(family=FONT, size=25, color="black"))

# legend drawn by hand (like the reference)
LEG_Y = 1 - 62 / H
for (x0, x1, tx), col, lab in zip([(518, 556, 570), (683, 727, 736)], ["#ff4040", "black"], LEGEND_LABELS):
    fig.add_shape(type="line", xref="paper", yref="paper", x0=x0 / W, x1=x1 / W, y0=LEG_Y, y1=LEG_Y,
                  line=dict(color=col, width=4))
    fig.add_annotation(text=lab, xref="paper", yref="paper", x=tx / W, y=LEG_Y,
                       xanchor="left", yanchor="middle", showarrow=False,
                       font=dict(family=FONT, size=12, color="black"))

fig.update_layout(width=W, height=H, margin=dict(l=0, r=0, t=0, b=0),
                  paper_bgcolor="white", plot_bgcolor="white", showlegend=False)

# remove the browser's default 8px page margin so the figure sits at the page origin;
# hide the interactive mode bar (it would cover the title)
fig.write_html("out.html", config={"displayModeBar": False},
               post_script="document.body.style.margin='0px';")
